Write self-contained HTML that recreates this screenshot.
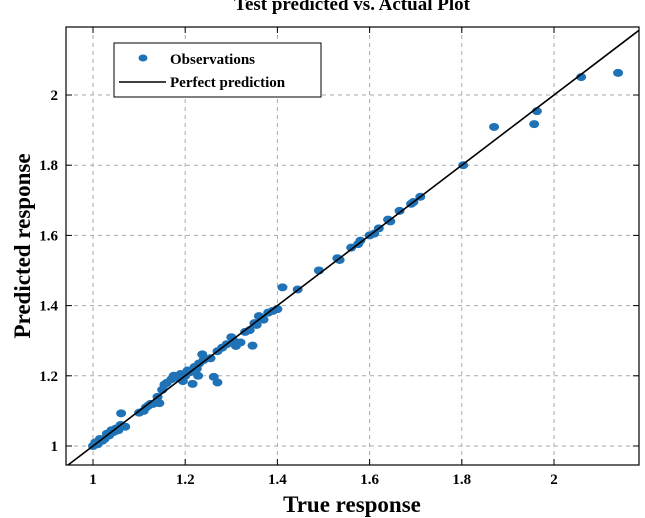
<!DOCTYPE html>
<html><head><meta charset="utf-8"><style>
body{margin:0;background:#fff;}
svg{display:block;font-family:"Liberation Serif",serif;font-weight:bold;}
</style></head><body>
<svg id="chart" width="645" height="518" viewBox="0 0 645 518" xmlns="http://www.w3.org/2000/svg">
<text x="352" y="10" text-anchor="middle" font-size="19">Test predicted vs. Actual Plot</text>
<g id="grid"></g>
<g id="marks"></g>
<line id="diag" stroke="#000" stroke-width="1.6"/>
<rect x="66" y="27" width="573" height="438" fill="none" stroke="#000" stroke-width="1.2"/>
<g id="ticks"></g>
<text x="352" y="512" text-anchor="middle" font-size="23">True response</text>
<text transform="translate(30,246) rotate(-90)" text-anchor="middle" font-size="23">Predicted response</text>
<g>
<rect x="114" y="43" width="207" height="54" fill="#fff" stroke="#000" stroke-width="1"/>
<ellipse cx="143" cy="58" rx="4.5" ry="3.5" fill="#1f72b6"/>
<text x="170" y="64" font-size="15">Observations</text>
<line x1="119" y1="82" x2="166" y2="82" stroke="#000" stroke-width="1.6"/>
<text x="170" y="87" font-size="15">Perfect prediction</text>
</g>
</svg>
<script>
const xTicks=[1,1.2,1.4,1.6,1.8,2];
const yTicks=[1,1.2,1.4,1.6,1.8,2];
const tickLabels=["1","1.2","1.4","1.6","1.8","2"];
const trueVals=[1.0,1.005,1.01,1.015,1.02,1.025,1.03,1.035,1.04,1.045,1.05,1.055,1.06,1.07,1.061,
1.10,1.11,1.115,1.12,1.125,1.13,1.14,1.144,1.15,1.155,1.16,1.17,1.175,1.18,1.19,1.195,1.2,1.205,1.21,1.216,1.22,1.225,1.228,1.23,1.237,1.24,1.255,1.262,1.27,
1.27,1.28,1.29,1.30,1.305,1.31,1.32,1.33,1.34,1.346,1.35,1.355,1.36,1.365,1.37,1.38,1.39,1.40,1.411,1.444,
1.49,1.53,1.535,1.56,1.575,1.58,1.60,1.61,1.62,1.64,1.645,1.665,1.69,1.695,1.71,1.803,1.87,1.957,1.963,2.059,2.139];
const predVals=[1.0,1.01,1.005,1.02,1.015,1.02,1.035,1.03,1.045,1.04,1.05,1.045,1.06,1.055,1.093,
1.095,1.1,1.11,1.115,1.12,1.12,1.14,1.122,1.16,1.175,1.18,1.19,1.20,1.195,1.205,1.185,1.2,1.215,1.21,1.177,1.225,1.22,1.2,1.235,1.261,1.245,1.25,1.197,1.181,
1.27,1.28,1.29,1.31,1.3,1.285,1.295,1.325,1.33,1.286,1.35,1.345,1.37,1.365,1.36,1.38,1.385,1.39,1.452,1.446,
1.5,1.535,1.53,1.565,1.575,1.585,1.60,1.605,1.62,1.645,1.64,1.67,1.69,1.695,1.71,1.8,1.909,1.917,1.954,2.051,2.063];
const L=66,R=639,T=27,B=465;
const x0=1,xpx0=93,xs=461; const y0=1,ypx0=446,ys=351;
const X=v=>xpx0+(v-x0)*xs, Y=v=>ypx0-(v-y0)*ys;
const ns="http://www.w3.org/2000/svg";
const grid=document.getElementById('grid'),ticks=document.getElementById('ticks'),marks=document.getElementById('marks');
function mk(tag,attrs,parent){const e=document.createElementNS(ns,tag);for(const k in attrs)e.setAttribute(k,attrs[k]);parent.appendChild(e);return e;}
xTicks.forEach((v,i)=>{
 const g=mk('line',{x1:X(v),x2:X(v),y1:T,y2:B,stroke:'#aaa','stroke-width':1,'stroke-dasharray':'4,4'},grid);
 
 
 const t1=mk('line',{x1:X(v),x2:X(v),y1:B,y2:B-6,stroke:'#000'},ticks);
 
 
 const t2=mk('line',{x1:X(v),x2:X(v),y1:T,y2:T+6,stroke:'#000'},ticks);
 
 
 const lb=mk('text',{x:X(v),y:B+19,'text-anchor':'middle','font-size':15},ticks);
 lb.textContent=tickLabels[i];
 
 
});
yTicks.forEach((v,i)=>{
 const g=mk('line',{x1:L,x2:R,y1:Y(v),y2:Y(v),stroke:'#aaa','stroke-width':1,'stroke-dasharray':'4,4'},grid);
 
 
 const t1=mk('line',{x1:L,x2:L+6,y1:Y(v),y2:Y(v),stroke:'#000'},ticks);
 
 
 const t2=mk('line',{x1:R,x2:R-6,y1:Y(v),y2:Y(v),stroke:'#000'},ticks);
 
 
 const lb=mk('text',{x:L-8,y:Y(v)+5,'text-anchor':'end','font-size':15},ticks);
 lb.textContent=tickLabels[i];
 
 
});
const xmin=x0+(L-xpx0)/xs, xmax=x0+(R-xpx0)/xs;
const lo=Math.max(xmin,y0-(B-ypx0)/ys), hi=Math.min(xmax,y0+(ypx0-T)/ys);
const d=document.getElementById('diag');
d.setAttribute('x1',X(lo));d.setAttribute('y1',Y(lo));d.setAttribute('x2',X(hi));d.setAttribute('y2',Y(hi));
trueVals.forEach((v,i)=>{
 const p=mk('ellipse',{cx:X(v),cy:Y(predVals[i]),rx:5,ry:4,fill:'#1f72b6'},marks);
 
 
});
</script>
</body></html>
